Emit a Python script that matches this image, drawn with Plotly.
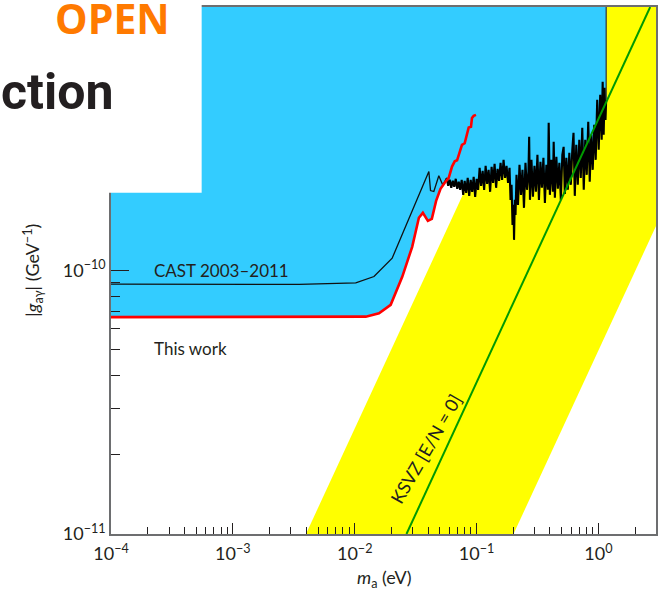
import plotly.graph_objects as go

# ---------------------------------------------------------------------------
# Data (axion mass in eV, photon coupling in units of 1e-10 GeV^-1)
# ---------------------------------------------------------------------------
G_UNIT = 1e-10
G_TOP = 10.0          # 1e-9 GeV^-1, top of the plotted range
M_RANGE_LOG = [-4, 0.4726]
G_RANGE_LOG = [-11, -9]

# CAST 2003-2011 limit, smooth low-mass part
cast_low_mass = [1e-4, 3.5e-3, 0.0102, 0.0144, 0.0203, 0.0406, 0.0419, 0.0446, 0.0490, 0.0528]
cast_low_g = [0.888, 0.886, 0.898, 0.949, 1.114, 2.375, 2.010, 1.994, 2.288, 2.110]

# CAST 2003-2011 limit, fine-step 3He scan up to 1.17 eV
scan_mass = [
    0.0569, 0.0585, 0.0602, 0.0620, 0.0638, 0.0656, 0.0675, 0.0694, 0.0714, 0.0734,
    0.0755, 0.0777, 0.0799, 0.0822, 0.0846, 0.0870, 0.0895, 0.0921, 0.0947, 0.0974,
    0.1002, 0.1030, 0.1060, 0.1090, 0.1122, 0.1154, 0.1187, 0.1221, 0.1256, 0.1292,
    0.1329, 0.1367, 0.1406, 0.1447, 0.1488, 0.1530, 0.1574, 0.1620, 0.1666, 0.1714,
    0.1762, 0.1813, 0.1865, 0.1900, 0.1937, 0.1973, 0.2011, 0.2030, 0.2061, 0.2088,
    0.2127, 0.2188, 0.2251, 0.2315, 0.2382, 0.2450, 0.2520, 0.2593, 0.2667, 0.2702,
    0.2743, 0.2822, 0.2902, 0.2986, 0.3071, 0.3159, 0.3250, 0.3343, 0.3438, 0.3537,
    0.3638, 0.3742, 0.3850, 0.3908, 0.3997, 0.4112, 0.4230, 0.4294, 0.4393, 0.4518,
    0.4647, 0.4780, 0.4917, 0.5058, 0.5183, 0.5302, 0.5454, 0.5610, 0.5771, 0.5936,
    0.6106, 0.6246, 0.6401, 0.6583, 0.6772, 0.6966, 0.7165, 0.7370, 0.7581, 0.7798,
    0.8021, 0.8251, 0.8488, 0.8731, 0.8981, 0.9238, 0.9503, 0.9777, 1.0058, 1.0345,
    1.0635, 1.0837, 1.1044, 1.1254, 1.1432, 1.1580,
]
scan_g = [
    2.247, 2.096, 2.209, 2.060, 2.190, 2.078, 2.228, 2.042, 2.171, 2.024,
    2.209, 1.937, 2.190, 1.972, 2.247, 1.920, 2.209, 1.989, 2.267, 1.904,
    2.228, 2.024, 2.452, 2.096, 2.389, 2.024, 2.496, 2.133, 2.410, 1.989,
    2.474, 2.152, 2.540, 2.060, 2.431, 2.190, 2.562, 2.209, 2.630, 2.247,
    2.496, 2.152, 2.452, 1.854, 2.114, 1.489, 1.775, 1.307, 1.854, 1.624,
    2.307, 1.775, 2.518, 1.937, 2.410, 1.729, 2.562, 2.024, 2.368, 3.215,
    1.854, 2.630, 1.904, 2.496, 1.989, 2.748, 1.854, 2.584, 2.060, 2.677,
    1.806, 2.518, 2.024, 3.634, 1.937, 2.630, 1.989, 3.078, 1.887, 2.700,
    2.042, 2.562, 1.854, 2.748, 2.947, 1.954, 2.677, 2.024, 2.797, 2.114,
    2.871, 3.330, 1.920, 2.999, 2.114, 3.133, 2.247, 3.478, 2.024, 3.133,
    2.307, 3.666, 2.171, 3.272, 2.410, 3.571, 2.630, 4.442, 2.871, 4.641,
    3.133, 5.200, 3.272, 4.933, 3.730, 4.442,
]

# This work (CAST 2013-2015)
this_work_mass = [1e-4, 0.01233, 0.01583, 0.01973, 0.02455, 0.02963, 0.03363, 0.03625,
                  0.03984, 0.04295, 0.04656, 0.0506, 0.0548, 0.0591, 0.0629, 0.0662,
                  0.0692, 0.0737, 0.0759, 0.0799, 0.0834, 0.0862, 0.0900, 0.0917,
                  0.0947, 0.0989]
this_work_g = [0.6655, 0.668, 0.688, 0.741, 0.9465, 1.230, 1.585, 1.655,
               1.543, 1.570, 1.838, 2.042, 2.152, 2.247, 2.48, 2.596,
               2.62, 2.871, 2.999, 3.04, 3.30, 3.49, 3.51, 3.79,
               3.863, 3.896]

# QCD axion model band (polygon corners) and the KSVZ line
band_mass = [0.00398, 0.201, 3.0, 3.0, 0.398]
band_g = [0.1, 0.1, 1.49, 10.0, 10.0]
ksvz_mass = [0.0266, 2.66]
ksvz_g = [0.1, 10.0]

# axis ticks
major_mass_ticks = [1e-4, 1e-3, 1e-2, 1e-1, 1e0]
major_mass_text = ["10<sup>−4</sup>", "10<sup>−3</sup>", "10<sup>−2</sup>",
                   "10<sup>−1</sup>", "10<sup>0</sup>"]
major_g_ticks = [1e-11, 1e-10]
major_g_text = ["10<sup>−11</sup>", "10<sup>−10</sup>"]

# ---------------------------------------------------------------------------
# Layout geometry (pixels of the 663x592 canvas)
# ---------------------------------------------------------------------------
W, H = 663, 592
L, R, T, B = 111, 658, 6, 534


def px(x):
    return (x - L) / (R - L)


def py(y):
    return (B - y) / (B - T)


INK = "#231f20"
FONT = "Lato, 'Open Sans', sans-serif"


def scale(vals):
    return [v * G_UNIT for v in vals]


fig = go.Figure()

# QCD axion band
fig.add_trace(go.Scatter(x=band_mass, y=scale(band_g), fill="toself", mode="lines",
                         line=dict(width=0), fillcolor="#ffff00", hoverinfo="skip",
                         showlegend=False))

# excluded region: union of this work and CAST 2003-2011
first_scan = scan_mass[0]
lower_m = [m for m in this_work_mass if m < first_scan] + scan_mass
lower_g = [g for m, g in zip(this_work_mass, this_work_g) if m < first_scan] + scan_g
blue_m = [this_work_mass[0]] + lower_m + [scan_mass[-1]]
blue_g = [G_TOP] + lower_g + [G_TOP]
fig.add_trace(go.Scatter(x=blue_m, y=scale(blue_g), fill="toself", mode="lines",
                         line=dict(width=0), fillcolor="#33ccff", hoverinfo="skip",
                         showlegend=False))

# CAST 2003-2011 limit: smooth part, dense scan part, and the edge at the last mass
fig.add_trace(go.Scatter(x=cast_low_mass + scan_mass[:1], y=scale(cast_low_g + scan_g[:1]),
                         mode="lines", line=dict(color="#111111", width=1.3),
                         showlegend=False))
fig.add_trace(go.Scatter(x=scan_mass, y=scale(scan_g), mode="lines",
                         line=dict(color="#000000", width=2.1), showlegend=False))
fig.add_trace(go.Scatter(x=[scan_mass[-1], scan_mass[-1]], y=scale([scan_g[-1], G_TOP]),
                         mode="lines", line=dict(color="#333333", width=1.2),
                         showlegend=False))

# this work
fig.add_trace(go.Scatter(x=this_work_mass, y=scale(this_work_g), mode="lines",
                         line=dict(color="#ff0000", width=2.6), showlegend=False))

# KSVZ model line
fig.add_trace(go.Scatter(x=ksvz_mass, y=scale(ksvz_g), mode="lines",
                         line=dict(color="#009a00", width=2), showlegend=False))

minor_mass = [k * 10.0 ** e for e in range(-4, 1) for k in range(2, 10)]
minor_g = [k * 10.0 ** e for e in range(-11, -9) for k in range(2, 10)]

axis_common = dict(type="log", showline=True, linecolor="#6d6e70", linewidth=1.5,
                   mirror=True, ticks="inside", tickcolor=INK, tickwidth=1.2,
                   showgrid=False, zeroline=False,
                   tickfont=dict(family=FONT, size=18, color=INK))

fig.update_xaxes(range=M_RANGE_LOG, tickvals=major_mass_ticks, ticktext=major_mass_text,
                 ticklen=11, ticklabelstandoff=3,
                 minor=dict(tickvals=minor_mass, ticks="inside", ticklen=7,
                            tickcolor=INK, tickwidth=1.2),
                 **axis_common)
fig.update_yaxes(range=G_RANGE_LOG, tickvals=major_g_ticks, ticktext=major_g_text,
                 ticklen=18,
                 minor=dict(tickvals=minor_g, ticks="inside", ticklen=9,
                            tickcolor=INK, tickwidth=1.2),
                 **axis_common)

annotations = [
    dict(text="CAST 2003–2011", x=px(152), y=py(270), xanchor="left", yanchor="middle",
         font=dict(family=FONT, size=17, color=INK)),
    dict(text="This work", x=px(152), y=py(348), xanchor="left", yanchor="middle",
         font=dict(family=FONT, size=17, color=INK)),
    dict(text="KSVZ [E/N = 0]", x=px(427), y=py(449), xanchor="center", yanchor="middle",
         textangle=-60, font=dict(family=FONT, size=18, color=INK)),
    dict(text="|<i>g</i><sub>aγ</sub>| (GeV<sup>−1</sup>)", x=px(32), y=py(270),
         xanchor="center", yanchor="middle", textangle=-90,
         font=dict(family=FONT, size=18, color=INK)),
    dict(text="<i>m</i><sub>a</sub> (eV)", x=px(386), y=py(579), xanchor="center",
         yanchor="middle", font=dict(family=FONT, size=18, color=INK)),
    dict(text="<b>OPEN</b>", x=px(113), y=py(17), xanchor="center", yanchor="middle",
         font=dict(family="'Open Sans', sans-serif", size=41, color="#ff7a00")),
    dict(text="<b>ction</b>", x=px(115), y=py(91), xanchor="right", yanchor="middle",
         font=dict(family="Roboto, 'Liberation Sans', sans-serif", size=50,
                   color=INK)),
]
for a in annotations:
    a.update(xref="paper", yref="paper", showarrow=False)

fig.update_layout(
    width=W, height=H,
    margin=dict(l=L, r=W - R, t=T, b=H - B, pad=0),
    paper_bgcolor="white", plot_bgcolor="white",
    annotations=annotations,
    shapes=[dict(type="rect", xref="paper", yref="paper", x0=px(-2), x1=px(202),
                 y0=py(192), y1=py(-5), fillcolor="white", line=dict(width=0),
                 layer="above")],
)

fig.write_html("out.html")
